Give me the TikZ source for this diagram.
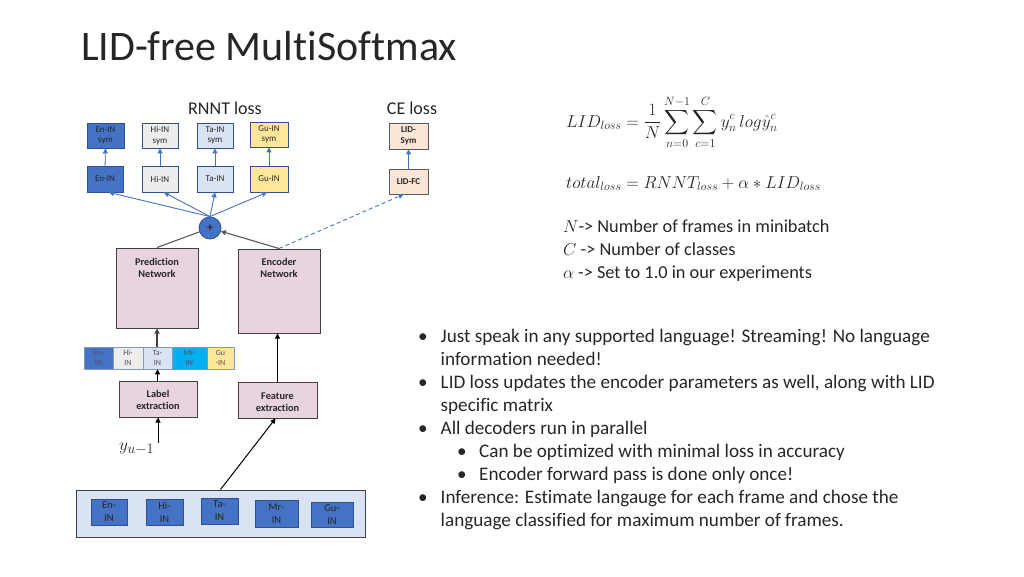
\documentclass[tikz,border=0pt]{standalone}
\usepackage{amsmath}
\usepackage{fontspec}
\setmainfont{Carlito}[Ligatures={NoCommon}]
\usetikzlibrary{arrows.meta}
\definecolor{dblue}{HTML}{4472C4}
\definecolor{bord}{HTML}{2F528F}
\definecolor{lgray}{HTML}{EDEDED}
\definecolor{lblue}{HTML}{DAE3F3}
\definecolor{lyel}{HTML}{FFE699}
\definecolor{peach}{HTML}{FBE5D6}
\definecolor{cyanb}{HTML}{00B0F0}
\definecolor{pinkc}{HTML}{E8D4DF}
\definecolor{dgray}{HTML}{404040}
\definecolor{agray}{HTML}{595959}
\definecolor{txt}{HTML}{262626}
\begin{document}
\begin{tikzpicture}[x=1pt,y=-1pt,>={Triangle[length=5pt,width=5pt]},
 symbox/.style={draw=bord,line width=0.8pt,inner sep=0pt,align=center,font=\fontsize{9}{10.5}\selectfont,minimum width=36pt,minimum height=25pt,text=txt},
 netbox/.style={draw=dgray,fill=pinkc,line width=1pt,inner sep=0pt},
 nettext/.style={font=\fontsize{10.3}{12.5}\selectfont\bfseries,align=center,text=txt,inner sep=0pt},
 stripseg/.style={draw=bord!60,line width=0.6pt,inner sep=0pt,align=center,font=\fontsize{8}{10}\selectfont,minimum height=22pt,text=txt!80},
 langbox/.style={draw=bord,fill=dblue,line width=0.8pt,inner sep=0pt,align=center,font=\fontsize{10.5}{13}\selectfont,minimum height=26pt,text=txt},
 bluearrow/.style={->,draw=dblue,line width=0.9pt},
 grayline/.style={draw=agray,line width=1.1pt},
 blackarrow/.style={->,draw=black,line width=1pt},
 bodytext/.style={font=\fontsize{19.15}{23}\selectfont,anchor=base west,inner sep=0pt,text=txt},
 deftext/.style={font=\fontsize{18.3}{22}\selectfont,anchor=base west,inner sep=0pt,text=txt},
 mathtext/.style={font=\fontsize{18.5}{22}\selectfont,anchor=base west,inner sep=0pt,text=txt},
]
\useasboundingbox (0,0) rectangle (1024,576);

% title
\node[font=\fontsize{42}{48}\selectfont,anchor=base west,inner sep=0pt,text=txt] (title) at (81,60) {LID-free MultiSoftmax};

% loss labels
\node[font=\fontsize{18}{20}\selectfont,text=txt,inner sep=0pt] (rnnt) at (225,108) {RNNT loss};
\node[font=\fontsize{18}{20}\selectfont,text=txt,inner sep=0pt] (ce) at (412,108) {CE loss};

% top sym boxes
\node[symbox,fill=dblue,minimum width=37pt] (ensym) at (105.5,135.5) {En-IN\\sym};
\node[symbox,fill=lgray] (hisym) at (160,135.5) {Hi-IN\\sym};
\node[symbox,fill=lblue] (tasym) at (215,135.5) {Ta-IN\\sym};
\node[symbox,fill=lyel,minimum width=38pt] (gusym) at (269,134.5) {Gu-IN\\sym};
\node[symbox,fill=peach,draw=agray,minimum width=39pt,minimum height=26pt,font=\fontsize{9}{10.5}\selectfont\bfseries] (lidsym) at (408.5,136) {LID-\\Sym};

% second row
\node[symbox,fill=dblue,minimum height=26pt] (en) at (105,179) {En-IN};
\node[symbox,fill=lgray,minimum height=26pt] (hi) at (160,179) {Hi-IN};
\node[symbox,fill=lblue,minimum height=26pt] (ta) at (215,179) {Ta-IN};
\node[symbox,fill=lyel,minimum width=38pt,minimum height=26pt] (gu) at (269,179) {Gu-IN};
\node[symbox,fill=peach,draw=agray,minimum width=39pt,font=\fontsize{9}{10.5}\selectfont\bfseries] (lidfc) at (408.5,181.5) {LID-FC};

\draw[bluearrow] (en) -- (ensym);
\draw[bluearrow] (hi) -- (hisym);
\draw[bluearrow] (ta) -- (tasym);
\draw[bluearrow] (gu) -- (gusym);
\draw[bluearrow] (lidfc) -- (lidsym);

% networks
\node[netbox,minimum width=82pt,minimum height=80pt] (pred) at (157,288) {};
\node[nettext,anchor=north] (predt) at (157,258) {Prediction\\Network};
\node[netbox,minimum width=82pt,minimum height=84pt] (enc) at (279,291) {};
\node[nettext,anchor=north] (enct) at (279,258) {Encoder\\Network};

% plus
\node[circle,draw=bord,fill=dblue,line width=0.8pt,minimum size=22pt,inner sep=0pt,font=\fontsize{12}{12}\selectfont\bfseries,text=txt] (plus) at (210,228) {+};

\draw[bluearrow] (plus.north) -- ([xshift=4pt]en.south);
\draw[bluearrow] (plus.north) -- ([xshift=4pt]hi.south);
\draw[bluearrow] (plus.north) -- (ta.south);
\draw[bluearrow] (plus.north) -- ([xshift=-2pt]gu.south);

\draw[grayline] (pred.north) -- (plus);
\draw[grayline,->] (enc.north) -- (plus);
\draw[bluearrow,dashed,dash pattern=on 4pt off 3pt] (enc.north) -- ([xshift=-5pt]lidfc.south);

% strip
\node[stripseg,fill=dblue,minimum width=29pt] (s1) at (98.5,358) {En-\\IN};
\node[stripseg,fill=lgray,minimum width=30pt] (s2) at (128,358) {Hi-\\IN};
\node[stripseg,fill=lblue,minimum width=29pt] (s3) at (157.5,358) {Ta-\\IN};
\node[stripseg,fill=cyanb,minimum width=35pt] (s4) at (189.5,358) {Mr-\\IN};
\node[stripseg,fill=lyel,minimum width=27pt] (s5) at (220.5,358) {Gu\\-IN};

% extraction boxes
\node[netbox,minimum width=78pt,minimum height=36pt] (label) at (158,399) {};
\node[nettext] (labelt) at (158,400) {Label\\extraction};
\node[netbox,minimum width=79pt,minimum height=36pt] (feat) at (277.5,400) {};
\node[nettext] (featt) at (277.5,402) {Feature\\extraction};

\draw[grayline,->,draw=dgray] (s3.north -| pred.south) -- (pred.south);
\draw[blackarrow] (label.north -| s3.south) -- (s3.south);
\draw[blackarrow] (feat.north) -- (feat.north |- enc.south);

% y_{u-1}
\node[font=\fontsize{19}{22}\selectfont,anchor=base west,inner sep=0pt,text=txt] (yu) at (119,450) {$y_{u-1}$};
\coordinate (ytop) at (158,443);
\draw[blackarrow] (ytop) -- (ytop |- label.south);

% bottom box
\node[draw=dgray,fill=lblue,line width=1pt,minimum width=289pt,minimum height=47pt,inner sep=0pt] (bottom) at (220.5,513.5) {};
\node[langbox,minimum width=36pt] (b1) at (109,512) {En-\\IN};
\node[langbox,minimum width=37pt] (b2) at (164.5,512) {Hi-\\IN};
\node[langbox,minimum width=37pt] (b3) at (219.5,511) {Ta-\\IN};
\node[langbox,minimum width=43pt,minimum height=27pt] (b4) at (276.5,513.5) {Mr-\\IN};
\node[langbox,minimum width=42pt,minimum height=25pt] (b5) at (332,514.5) {Gu-\\IN};
\draw[blackarrow] (bottom.north) -- ([xshift=-2pt]feat.south);

% formulas
\node[mathtext] (f1) at (566,127) {$\displaystyle LID_{loss} = \frac{1}{N}\sum_{n=0}^{N-1}\sum_{c=1}^{C} y_n^c\, log\hat{y}_n^c$};
\node[mathtext] (f2) at (566,188) {$total_{loss} = RNNT_{loss} + \alpha * LID_{loss}$};

% definitions
\node[deftext] (d1) at (563,232) {$N$-> Number of frames in minibatch};
\node[deftext] (d2) at (563,255) {$C$ -> Number of classes};
\node[deftext] (d3) at (563,278) {$\alpha$ -> Set to 1.0 in our experiments};

% bullets
\node[bodytext] (b1b) at (418,342.5) {•};
\node[bodytext] (l1) at (440.5,342.5) {Just speak in any supported language! Streaming! No language};
\node[bodytext] (l2) at (440.5,365.5) {information needed!};
\node[bodytext] (b2b) at (418,388.5) {•};
\node[bodytext] (l3) at (440.5,388.5) {LID loss updates the encoder parameters as well, along with LID};
\node[bodytext] (l4) at (440.5,411.5) {specific matrix};
\node[bodytext] (b3b) at (418,434.5) {•};
\node[bodytext] (l5) at (440.5,434.5) {All decoders run in parallel};
\node[bodytext] (b4b) at (457,457.5) {•};
\node[bodytext] (l6) at (479,457.5) {Can be optimized with minimal loss in accuracy};
\node[bodytext] (b5b) at (457,480.5) {•};
\node[bodytext] (l7) at (479,480.5) {Encoder forward pass is done only once!};
\node[bodytext] (b6b) at (418,503.5) {•};
\node[bodytext] (l8) at (440.5,503.5) {Inference: Estimate langauge for each frame and chose the};
\node[bodytext] (l9) at (440.5,526.5) {language classified for maximum number of frames.};
\end{tikzpicture}
\end{document}
